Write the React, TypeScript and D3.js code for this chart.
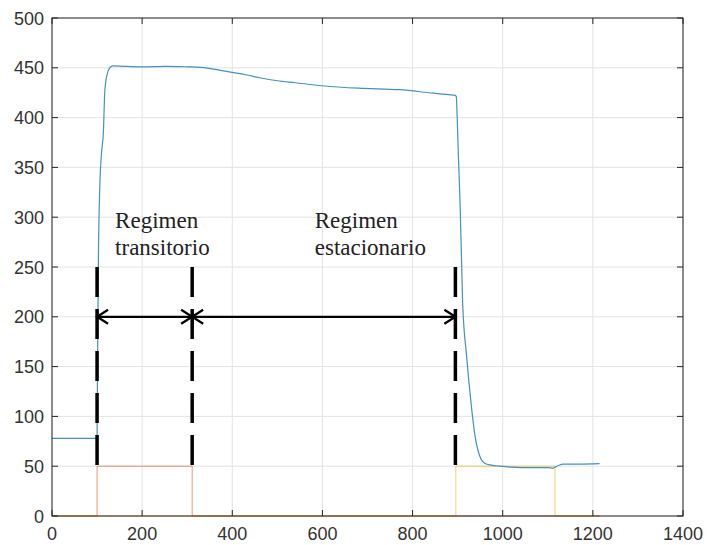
import React, { useEffect, useRef } from 'react';
import * as d3 from 'd3';

// measured signal (blue)
const tBlue = [0, 50, 99, 100, 101, 103, 106, 110, 114, 117, 122, 128, 135, 160, 200, 250, 300, 330, 380, 430, 461, 500, 540, 600, 680, 772, 845, 880, 894, 897, 899, 901, 905, 909, 911, 920, 931, 938, 945, 952, 960, 975, 994, 1020, 1060, 1100, 1112, 1116, 1125, 1134, 1170, 1215];
const vBlue = [78, 78, 78, 80, 150, 260, 330, 365, 385, 425, 443, 450, 452, 451.5, 451, 451.5, 451, 450.5, 447, 443, 440, 437, 435, 432, 429.5, 428, 424.5, 423, 422.5, 421, 400, 370, 320, 250, 215, 160, 108, 82, 66, 57, 53, 51, 50, 49, 48.5, 48.5, 48, 49, 51, 52, 52, 52.5];

// step signals
const tOrange = [0, 100, 100, 311, 311, 1215];
const vOrange = [0, 0, 50, 50, 0, 0];
const tYellow = [0, 896, 896, 1116, 1116, 1215];
const vYellow = [0, 0, 50, 50, 0, 0];

const xTicks = [0, 200, 400, 600, 800, 1000, 1200, 1400];
const yTicks = [0, 50, 100, 150, 200, 250, 300, 350, 400, 450, 500];

// annotation
const markers = [100, 311, 895];
const markerRange = [50, 250];
const arrowLevel = 200;
const labelLines = [
  { x: 140, lines: ['Regimen', 'transitorio'] },
  { x: 583, lines: ['Regimen', 'estacionario'] },
];

export default function App() {
  const ref = useRef<SVGSVGElement>(null);

  useEffect(() => {
    const svg = d3.select(ref.current);
    svg.selectAll('*').remove();

    const left = 52, right = 683, top = 18, bottom = 516;
    const x = d3.scaleLinear().domain([0, 1400]).range([left, right]);
    const y = d3.scaleLinear().domain([0, 500]).range([bottom, top]);

    svg.append('rect').attr('width', 707).attr('height', 545).attr('fill', '#fff');

    // grid
    const grid = svg.append('g').attr('stroke', '#e3e3e3').attr('stroke-width', 1);
    xTicks.forEach(t => grid.append('line').attr('x1', x(t)).attr('x2', x(t)).attr('y1', top).attr('y2', bottom));
    yTicks.forEach(t => grid.append('line').attr('y1', y(t)).attr('y2', y(t)).attr('x1', left).attr('x2', right));

    const line = (ts: number[], vs: number[], curve: d3.CurveFactory = d3.curveLinear) =>
      d3.line<number>().x((d, i) => x(ts[i])).y(d => y(d)).curve(curve)(vs);

    svg.append('path').attr('d', line(tOrange, vOrange)).attr('fill', 'none')
      .attr('stroke', '#D95319').attr('stroke-width', 0.8).attr('stroke-opacity', 0.75);
    svg.append('path').attr('d', line(tYellow, vYellow)).attr('fill', 'none')
      .attr('stroke', '#EDB120').attr('stroke-width', 0.8).attr('stroke-opacity', 0.8);
    svg.append('path').attr('d', line(tBlue, vBlue, d3.curveMonotoneX)).attr('fill', 'none')
      .attr('stroke', '#4590bd').attr('stroke-width', 1.2).attr('stroke-linejoin', 'round');

    // axes box
    svg.append('rect').attr('x', left).attr('y', top).attr('width', right - left).attr('height', bottom - top)
      .attr('fill', 'none').attr('stroke', '#262626').attr('stroke-width', 1);

    const ticks = svg.append('g').attr('stroke', '#262626').attr('stroke-width', 1);
    xTicks.forEach(t => {
      ticks.append('line').attr('x1', x(t)).attr('x2', x(t)).attr('y1', bottom).attr('y2', bottom - 6);
      ticks.append('line').attr('x1', x(t)).attr('x2', x(t)).attr('y1', top).attr('y2', top + 6);
    });
    yTicks.forEach(t => {
      ticks.append('line').attr('y1', y(t)).attr('y2', y(t)).attr('x1', left).attr('x2', left + 6);
      ticks.append('line').attr('y1', y(t)).attr('y2', y(t)).attr('x1', right).attr('x2', right - 6);
    });

    const labels = svg.append('g').attr('font-family', 'Liberation Sans, Arial, sans-serif')
      .attr('font-size', 18).attr('fill', '#333');
    xTicks.forEach(t => labels.append('text').attr('x', x(t)).attr('y', 540)
      .attr('text-anchor', 'middle').text(t));
    yTicks.forEach(t => labels.append('text').attr('x', 44).attr('y', y(t) + 6.5)
      .attr('text-anchor', 'end').text(t));

    // dashed markers
    markers.forEach(m => svg.append('line').attr('x1', x(m)).attr('x2', x(m))
      .attr('y1', y(markerRange[1])).attr('y2', y(markerRange[0]))
      .attr('stroke', '#000').attr('stroke-width', 3.5).attr('stroke-dasharray', '30,12'));

    // double arrows
    const ay = y(arrowLevel);
    const head = (px: number, dir: number) =>
      svg.append('path').attr('d', `M${px + dir * 11},${ay - 7}L${px},${ay}L${px + dir * 11},${ay + 7}`)
        .attr('fill', 'none').attr('stroke', '#000').attr('stroke-width', 2.2);
    for (let i = 0; i < markers.length - 1; i++) {
      const a = x(markers[i]), b = x(markers[i + 1]);
      svg.append('line').attr('x1', a).attr('x2', b).attr('y1', ay).attr('y2', ay)
        .attr('stroke', '#000').attr('stroke-width', 2.2);
      head(a, 1);
      head(b, -1);
    }

    const notes = svg.append('g').attr('font-family', 'Liberation Serif, Times New Roman, serif')
      .attr('font-size', 23).attr('fill', '#222');
    labelLines.forEach(l => l.lines.forEach((s, i) =>
      notes.append('text').attr('x', x(l.x)).attr('y', 228 + i * 27).text(s)));
  }, []);

  return <svg ref={ref} width={707} height={545} style={{ position: 'absolute', left: 0, top: 0 }} />;
}
